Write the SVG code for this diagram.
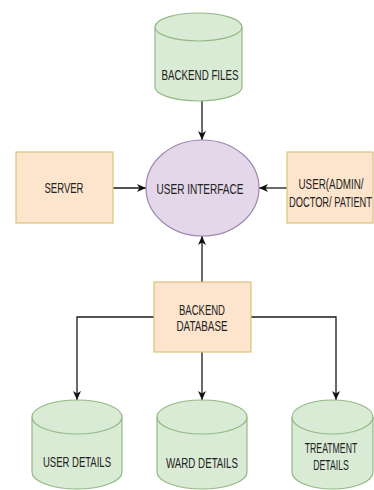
<svg xmlns="http://www.w3.org/2000/svg" width="374" height="490" viewBox="0 0 374 490">
  <defs>
    <marker id="arrow" markerUnits="userSpaceOnUse" markerWidth="10" markerHeight="10" viewBox="0 0 10 10" refX="9" refY="5" orient="auto">
      <path d="M0,1 L9,5 L0,9 L2.5,5 Z" fill="#111"/>
    </marker>
  </defs>
  <style>
    .db { fill: #d9ead5; stroke: #93b985; stroke-width: 1.2; }
    .db-rim { fill: none; stroke: #93b985; stroke-width: 1.2; }
    .box { fill: #fde4cd; stroke: #dcc27f; stroke-width: 1.2; }
    .ui { fill: #e3d7e9; stroke: #9f86ad; stroke-width: 1.2; }
    .lbl { font-family: "Liberation Sans", Arial, sans-serif; font-size: 14.5px; fill: #222; text-anchor: middle; }
    .edge { fill: none; stroke: #1a1a1a; stroke-width: 1.3; marker-end: url(#arrow); }
  </style>

  <rect width="374" height="490" fill="#ffffff"/>

  <!-- connectors -->
  <g id="connectors">
    <path class="edge" d="M202,101 L202,140"/>
    <path class="edge" d="M113,188 L146,188"/>
    <path class="edge" d="M287,188 L259,188"/>
    <path class="edge" d="M202,282 L202,236"/>
    <path class="edge" d="M154,317 L77,317 L77,400"/>
    <path class="edge" d="M202,352 L202,400"/>
    <path class="edge" d="M251,317 L336,317 L336,400"/>
  </g>

  <!-- backend files store -->
  <g id="backend-files">
    <path class="db" d="M155,27 A43.5,14 0 0 1 242,27 L242,87 A43.5,14 0 0 1 155,87 Z"/>
    <path class="db-rim" d="M155,27 A43.5,14 0 0 0 242,27"/>
    <text class="lbl" x="200" y="80" textLength="77" lengthAdjust="spacingAndGlyphs">BACKEND FILES</text>
  </g>

  <!-- server -->
  <g id="server">
    <rect class="box" x="16" y="152" width="97" height="71"/>
    <text class="lbl" x="64" y="193" textLength="39" lengthAdjust="spacingAndGlyphs">SERVER</text>
  </g>

  <!-- user interface -->
  <g id="user-interface">
    <ellipse class="ui" cx="202.5" cy="188" rx="56.5" ry="48"/>
    <text class="lbl" x="200" y="194" textLength="87" lengthAdjust="spacingAndGlyphs">USER INTERFACE</text>
  </g>

  <!-- users: labels squeezed horizontally to fit the narrow box -->
  <g id="users">
    <rect class="box" x="287" y="152" width="86" height="71"/>
    <text class="lbl" transform="translate(331,189) scale(0.68,1)">USER(ADMIN/</text>
    <text class="lbl" transform="translate(330.5,207) scale(0.64,1)">DOCTOR/ PATIENT</text>
  </g>

  <!-- backend database -->
  <g id="backend-database">
    <rect class="box" x="154" y="282" width="97" height="70"/>
    <text class="lbl" x="202" y="315" textLength="46" lengthAdjust="spacingAndGlyphs">BACKEND</text>
    <text class="lbl" x="202" y="331" textLength="51" lengthAdjust="spacingAndGlyphs">DATABASE</text>
  </g>

  <!-- user details store -->
  <g id="user-details">
    <path class="db" d="M32,417 A45,17 0 0 1 122,417 L122,472 A45,17 0 0 1 32,472 Z"/>
    <path class="db-rim" d="M32,417 A45,17 0 0 0 122,417"/>
    <text class="lbl" x="77" y="467" textLength="68" lengthAdjust="spacingAndGlyphs">USER DETAILS</text>
  </g>

  <!-- ward details store -->
  <g id="ward-details">
    <path class="db" d="M157,417 A45,17 0 0 1 247,417 L247,472 A45,17 0 0 1 157,472 Z"/>
    <path class="db-rim" d="M157,417 A45,17 0 0 0 247,417"/>
    <text class="lbl" x="202" y="468" textLength="72" lengthAdjust="spacingAndGlyphs">WARD DETAILS</text>
  </g>

  <!-- treatment details store -->
  <g id="treatment-details">
    <path class="db" d="M292,417 A40.5,17 0 0 1 373,417 L373,472 A40.5,17 0 0 1 292,472 Z"/>
    <path class="db-rim" d="M292,417 A40.5,17 0 0 0 373,417"/>
    <text class="lbl" transform="translate(331,453) scale(0.6,1)">TREATMENT</text>
    <text class="lbl" transform="translate(331,470) scale(0.6,1)">DETAILS</text>
  </g>
</svg>
